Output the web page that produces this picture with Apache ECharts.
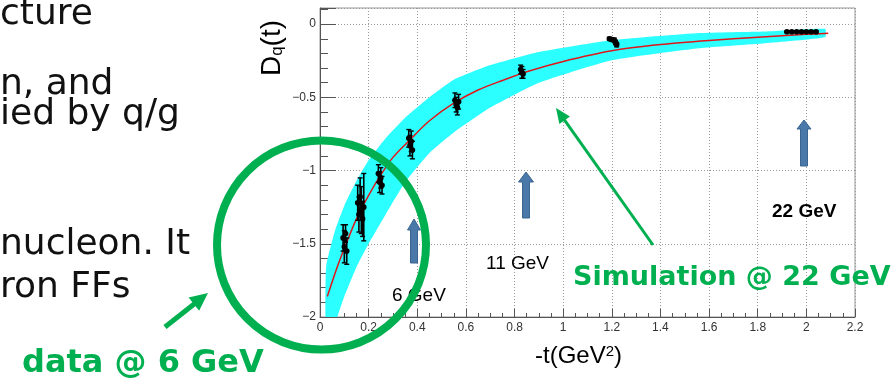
<!DOCTYPE html>
<html><head><meta charset="utf-8">
<script src="https://cdn.jsdelivr.net/npm/echarts@6/dist/echarts.min.js"></script>
<style>html,body{margin:0;padding:0;background:#fff}#c{width:896px;height:380px}</style>
</head><body><div id="c"></div><script>
// ---- data ----
// simulated curve (red)
const tLine = [0.03,0.05,0.075,0.1,0.15,0.2,0.25,0.3,0.37,0.45,0.55,0.65,0.75,0.85,1.0,1.2,1.4,1.6,1.8,2.0,2.09];
const dLine = [-1.86,-1.76,-1.64,-1.53,-1.33,-1.17,-1.03,-0.91,-0.79,-0.66,-0.54,-0.45,-0.385,-0.325,-0.255,-0.182,-0.14,-0.112,-0.09,-0.07,-0.063];
// uncertainty band (cyan)
const tBand = [0.025,0.06,0.1,0.15,0.2,0.27,0.35,0.45,0.55,0.7,0.9,1.2,1.56,1.83,2.077];
const bandUpper = [-1.66,-1.42,-1.24,-1.07,-0.93,-0.78,-0.64,-0.50,-0.38,-0.28,-0.19,-0.11,-0.061,-0.05,-0.032];
const bandLower = [-2.15,-2.05,-1.86,-1.66,-1.50,-1.30,-1.08,-0.88,-0.74,-0.57,-0.40,-0.246,-0.164,-0.13,-0.09];
// data points with errors (black)
const tPts = [0.095,0.1,0.105,0.11, 0.155,0.16,0.165,0.17,0.175,0.18, 0.24,0.245,0.25,0.255, 0.365,0.37,0.375,0.38, 0.555,0.56,0.565,0.57, 0.825,0.83,0.835, 1.19,1.2,1.21,1.215,1.22, 1.92,1.94,1.96,1.98,2.0,2.02,2.04];
const dPts = [-1.46,-1.52,-1.43,-1.55, -1.22,-1.30,-1.18,-1.27,-1.33,-1.25, -1.02,-1.08,-1.05,-1.10, -0.78,-0.83,-0.80,-0.86, -0.52,-0.55,-0.57,-0.53, -0.31,-0.33,-0.34, -0.10,-0.105,-0.11,-0.125,-0.14, -0.052,-0.052,-0.052,-0.052,-0.052,-0.052,-0.052];
const ePts = [0.09,0.11,0.06,0.09, 0.12,0.12,0.13,0.16,0.12,0.23, 0.06,0.07,0.07,0.06, 0.06,0.07,0.07,0.06, 0.05,0.05,0.05,0.05, 0.03,0.04,0.03, 0.01,0.012,0.015,0.015,0.015, 0.006,0.006,0.006,0.006,0.006,0.006,0.006];
// axes
const xTicks = {min:0, max:2.2, interval:0.2};
const yTicks = {min:-2, max:0.11, interval:0.5};
const xTitle = '-t(GeV', yTitle = 'D';
const energyLabels = ['6 GeV','11 GeV','22 GeV'];
const slideLines = ['cture','n, and','ied by q/g','nucleon. It','ron FFs'];

const chart = echarts.init(document.getElementById('c'), null, {renderer:'canvas'});

const lineData = tLine.map((t,i)=>[t,dLine[i]]);
const ptData = tPts.map((t,i)=>[t,dPts[i],ePts[i]]);

function upArrow(cx, top, bottom, headW, shaftW, headH){
  return {type:'polygon', z:50, shape:{points:[
    [cx, top],[cx+headW/2, top+headH],[cx+shaftW/2, top+headH],[cx+shaftW/2, bottom],
    [cx-shaftW/2, bottom],[cx-shaftW/2, top+headH],[cx-headW/2, top+headH]]},
    style:{fill:'#4a78a8', stroke:'#3b6591', lineWidth:1}};
}
function greenArrow(x1,y1,x2,y2,w,hl,hw){
  const dx=x2-x1, dy=y2-y1, L=Math.hypot(dx,dy), ux=dx/L, uy=dy/L;
  const bx=x2-ux*hl, by=y2-uy*hl, px=-uy, py=ux;
  return [
    {type:'line', z:60, shape:{x1:x1,y1:y1,x2:bx+ux*2,y2:by+uy*2}, style:{stroke:'#00B050', lineWidth:w}},
    {type:'polygon', z:60, shape:{points:[[x2,y2],[bx+px*hw/2,by+py*hw/2],[bx-px*hw/2,by-py*hw/2]]}, style:{fill:'#00B050'}}
  ];
}
function txt(s, x, baseline, size, opts){
  opts = opts||{};
  return {type:'text', z: opts.z||55, x:x, y:baseline-0.34*size,
    style:{text:s, fontFamily:opts.family||'Liberation Sans', fontSize:size, fontWeight:opts.bold?'bold':'normal',
      fill:opts.color||'#000', align:'left', verticalAlign:'middle'}};
}

const graphics = [];
// slide text fragments
const slideBase = [27,97,127,257,300];
slideLines.forEach((s,i)=>graphics.push(txt(s,0,slideBase[i],36,{family:'DejaVu Sans',color:'#111'})));
// axis titles
graphics.push({type:'text', z:55, x:272, y:48, rotation:Math.PI/2,
  style:{text:'{a|'+yTitle+'}{b|q}{a|(t)}', align:'center', verticalAlign:'middle',
    rich:{a:{fontFamily:'Liberation Sans', fontSize:28, fill:'#000'},
          b:{fontFamily:'Liberation Sans', fontSize:17, fill:'#000', verticalAlign:'bottom'}}}});
graphics.push({type:'text', z:55, x:535, y:356,
  style:{text:'{a|'+xTitle+'}{b|2}{a|)}', align:'left', verticalAlign:'middle',
    rich:{a:{fontFamily:'Liberation Sans', fontSize:24, fill:'#000'},
          b:{fontFamily:'Liberation Sans', fontSize:15, fill:'#000', verticalAlign:'top'}}}});
// energy arrows + labels
graphics.push(upArrow(414,219,263,13,7,11));
graphics.push(upArrow(526,172,218,15,7,10));
graphics.push(upArrow(804,120,166,14,7,9));
graphics.push(txt(energyLabels[0],392,302,19));
graphics.push(txt(energyLabels[1],486,270,19));
graphics.push(txt(energyLabels[2],772,218,19,{bold:true}));
// overlay annotations
graphics.push({type:'circle', z:70, shape:{cx:321.5, cy:245, r:104.5}, style:{fill:'none', stroke:'#00B050', lineWidth:8}});
greenArrow(165,327,208,293,5,18,17).forEach(g=>graphics.push(g));
greenArrow(653,245,556,108,3,15,13).forEach(g=>graphics.push(g));
graphics.push(txt('Simulation @ 22 GeV',573,287,27,{family:'DejaVu Sans',bold:true,color:'#00B050',z:75}));
graphics.push(txt('data @ 6 GeV',22,375,32,{family:'DejaVu Sans',bold:true,color:'#00B050',z:75}));

const axisCol = '#555';
const option = {
  animation:false,
  backgroundColor:'#fff',
  grid:{left:320, right:41, top:8, bottom:63, show:true, borderColor:'#999', borderWidth:1, containLabel:false, outerBoundsMode:'none'},
  xAxis:{type:'value', min:xTicks.min, max:xTicks.max, interval:xTicks.interval,
    axisLine:{show:true, onZero:false, lineStyle:{color:axisCol, width:1}},
    axisTick:{show:true, inside:true, length:8, lineStyle:{color:axisCol}},
    minorTick:{show:true, splitNumber:4, length:4, lineStyle:{color:axisCol}},
    axisLabel:{margin:5, fontFamily:'Liberation Sans', fontSize:12, color:'#333', showMaxLabel:true},
    splitLine:{show:true, lineStyle:{color:'#999', type:[1,2], width:1}}},
  yAxis:{type:'value', min:yTicks.min, max:yTicks.max, interval:yTicks.interval,
    axisLine:{show:true, onZero:false, lineStyle:{color:axisCol, width:1}},
    axisTick:{show:true, inside:true, length:16, lineStyle:{color:axisCol}},
    minorTick:{show:true, splitNumber:5, length:8, lineStyle:{color:axisCol}},
    axisLabel:{margin:4, fontFamily:'Liberation Sans', fontSize:12, color:'#333', showMaxLabel:false,
      formatter:v=> v===0 ? '0' : (v<0 ? '\u2212'+Math.abs(v) : String(v))},
    splitLine:{show:true, lineStyle:{color:'#999', type:[1,2], width:1}}},
  series:[
    {type:'custom', name:'band', clip:true, z:2, data:[[0]],
     renderItem:function(params, api){
       const pts = [];
       for(let i=0;i<tBand.length;i++) pts.push(api.coord([tBand[i], bandUpper[i]]));
       for(let i=tBand.length-1;i>=0;i--) pts.push(api.coord([tBand[i], bandLower[i]]));
       return {type:'polygon', shape:{points:pts, smooth:0.15}, style:{fill:'#2cffff'}};
     }},
    {type:'line', name:'simulation', z:3, data:lineData, smooth:0.3, showSymbol:false,
     lineStyle:{color:'#e0161b', width:1.5}},
    {type:'custom', name:'data', clip:false, z:4, data:ptData,
     renderItem:function(params, api){
       const x=api.value(0), y=api.value(1), e=api.value(2);
       const p=api.coord([x,y]), a=api.coord([x,y+e]), b=api.coord([x,y-e]);
       return {type:'group', children:[
         {type:'line', shape:{x1:a[0],y1:a[1],x2:b[0],y2:b[1]}, style:{stroke:'#000', lineWidth:1.6}},
         {type:'line', shape:{x1:a[0]-2.5,y1:a[1],x2:a[0]+2.5,y2:a[1]}, style:{stroke:'#000', lineWidth:1.4}},
         {type:'line', shape:{x1:b[0]-2.5,y1:b[1],x2:b[0]+2.5,y2:b[1]}, style:{stroke:'#000', lineWidth:1.4}},
         {type:'circle', shape:{cx:p[0], cy:p[1], r:2.8}, style:{fill:'#000'}}
       ]};
     }}
  ],
  graphic:graphics
};
chart.setOption(option);
</script></body></html>
